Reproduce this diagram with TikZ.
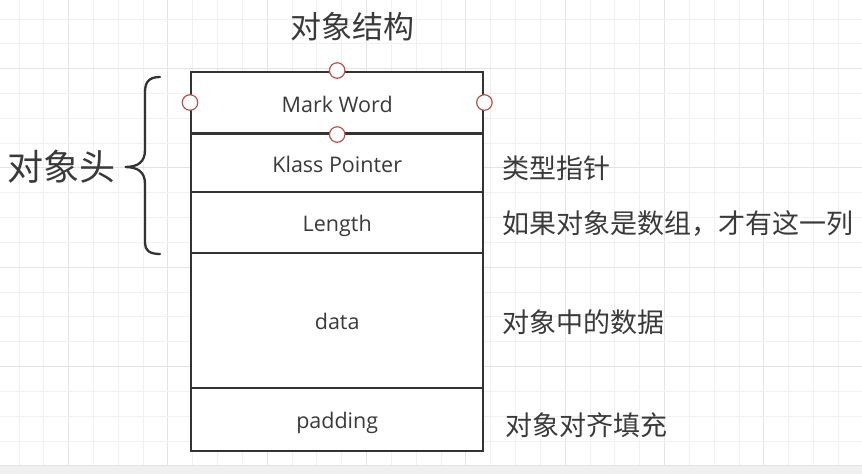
\documentclass[tikz,border=0pt]{standalone}
\usepackage{fontspec}
\setmainfont{Open Sans}
\newfontfamily\cjk{Noto Sans CJK SC}
\definecolor{gridminor}{HTML}{F0F0F0}
\definecolor{gridmajor}{HTML}{E3E3E3}
\definecolor{boxline}{HTML}{333333}
\definecolor{txt}{HTML}{3A3A3A}
\definecolor{handle}{HTML}{B85450}
\definecolor{band}{HTML}{F0F0F0}
\begin{document}
\begin{tikzpicture}[x=1pt,y=-1pt,
  row/.style={draw=boxline,line width=2.4pt,fill=white,minimum width=292pt,inner sep=0pt,
    text=txt,text height=19pt,text depth=0pt,font=\fontsize{21.5}{24}\selectfont},
  side/.style={anchor=west,text=txt,inner sep=0pt,font=\cjk\fontsize{27}{30}\selectfont},
  hnd/.style={circle,draw=handle,line width=1.2pt,fill=white,minimum size=15.5pt,inner sep=0pt}]
\useasboundingbox (0,0) rectangle (862,474);
\fill[white] (0,0) rectangle (862,474);
% grid
\foreach \i in {0,...,34}{
  \pgfmathsetmacro{\gx}{19+24.83*\i}
  \pgfmathtruncatemacro{\m}{mod(\i,4)}
  \ifnum\m=2
    \draw[gridmajor,line width=1pt] (\gx,0) -- (\gx,466);
  \else
    \draw[gridminor,line width=1pt] (\gx,0) -- (\gx,466);
  \fi
}
\foreach \i in {0,...,18}{
  \pgfmathsetmacro{\gy}{19+24.83*\i}
  \pgfmathtruncatemacro{\m}{mod(\i,4)}
  \ifnum\m=2
    \draw[gridmajor,line width=1pt] (0,\gy) -- (862,\gy);
  \else
    \draw[gridminor,line width=1pt] (0,\gy) -- (862,\gy);
  \fi
}
\fill[band] (0,466) rectangle (862,474);
% rows
\node[row,minimum height=61.6pt] (mark) at (337.2,102.5) {Mark Word};
\node[row,minimum height=58.4pt] (klass) at (337.2,162.5) {Klass Pointer};
\node[row,minimum height=61pt] (length) at (337.2,222.2) {Length};
\node[row,minimum height=135pt] (data) at (337.2,320.2) {data};
\node[row,minimum height=63pt] (padding) at (337.2,419.2) {padding};
% handles
\node[hnd] (h1) at (mark.north) {};
\node[hnd] (h2) at (mark.west) {};
\node[hnd] (h3) at (mark.east) {};
\node[hnd] (h4) at (mark.south) {};
% title
\node[text=txt,inner sep=0pt,font=\cjk\fontsize{31}{34}\selectfont] (title) at (352,27) {对象结构};
% brace
\draw[boxline,line width=2.3pt,line cap=round]
  (160,77) .. controls (149,77) and (145,82) .. (145,92)
  -- (145,150) .. controls (145,162) and (138,167) .. (125,167)
  .. controls (138,167) and (145,172) .. (145,184)
  -- (145,243) .. controls (145,250) and (149,254) .. (160,254);
\coordinate (tip) at (125,167);
\node[text=txt,inner sep=0pt,anchor=east,font=\cjk\fontsize{36}{39}\selectfont] (head) at (116,167) {对象头};
% side labels
\node[side] (l1) at (502,168) {类型指针};
\node[side] (l2) at (502,224) {如果对象是数组，才有这一列};
\node[side] (l3) at (502,322) {对象中的数据};
\node[side] (l4) at (505,425) {对象对齐填充};
\end{tikzpicture}
\end{document}
